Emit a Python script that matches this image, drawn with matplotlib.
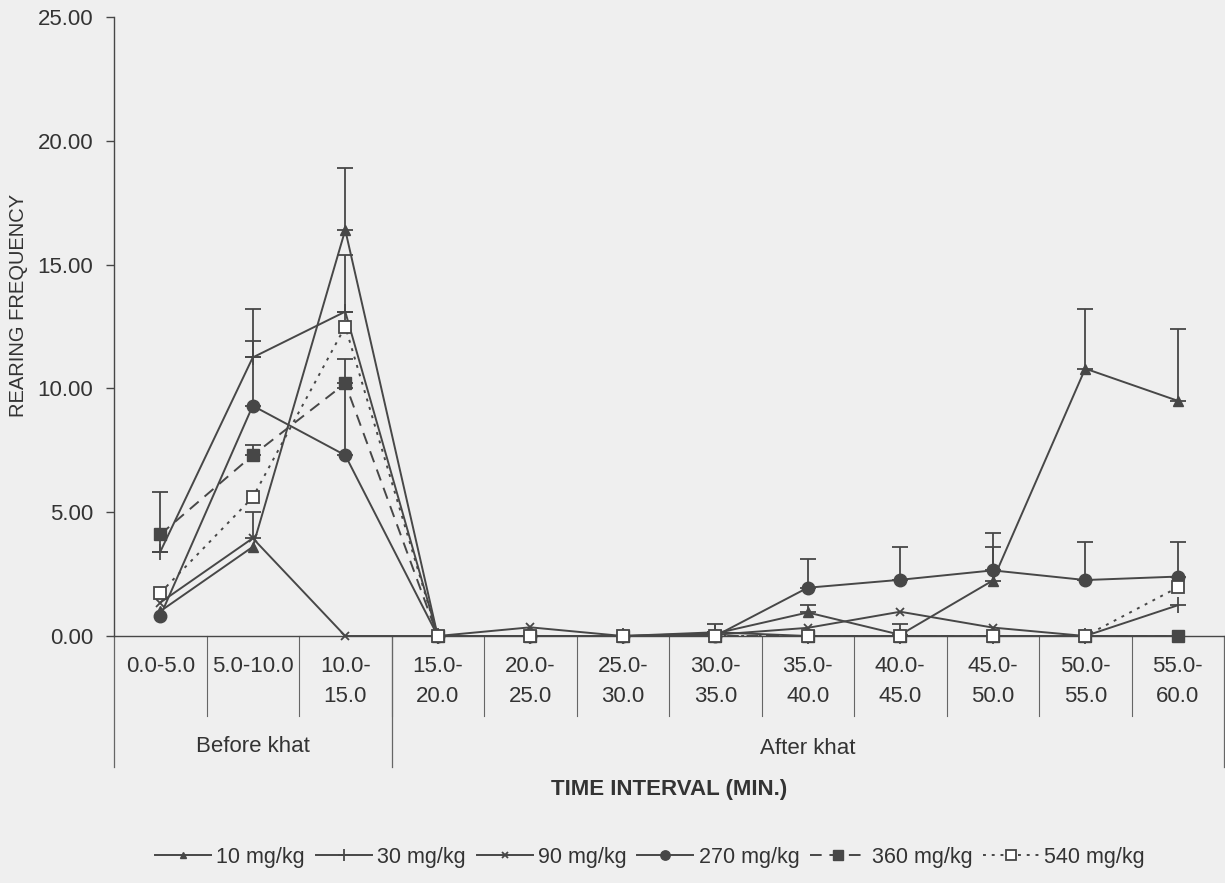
import matplotlib
matplotlib.use('Agg')
import matplotlib.pyplot as plt
import numpy as np

plt.rcParams['font.family'] = ['Liberation Sans', 'DejaVu Sans']

# Categorias (intervalos de tempo) e grupos
intervalos = ['0.0-5.0', '5.0-10.0', '10.0-\n15.0', '15.0-\n20.0', '20.0-\n25.0', '25.0-\n30.0',
              '30.0-\n35.0', '35.0-\n40.0', '40.0-\n45.0', '45.0-\n50.0', '50.0-\n55.0', '55.0-\n60.0']
grupos = ['Before khat', 'After khat']

doses = ['10 mg/kg', '30 mg/kg', '90 mg/kg', '270 mg/kg', '360 mg/kg', '540 mg/kg']

# Médias
v_10 = [1.0, 3.6, 16.4, 0, 0, 0, 0.1, 0.95, 0.05, 2.24, 10.8, 9.5]
v_30 = [3.4, 11.25, 13.1, 0, 0, 0, 0.15, 0, 0, 0, 0, 1.24]
v_90 = [1.35, 3.95, 0, 0, 0.35, 0, 0.05, 0.33, 0.98, 0.34, 0, 0]
v_270 = [0.8, 9.3, 7.3, 0, 0, 0, 0, 1.95, 2.27, 2.65, 2.26, 2.4]
v_360 = [4.1, 7.3, 10.2, 0, 0, 0, 0, 0, 0, 0, 0, 0]
v_540 = [1.74, 5.6, 12.5, 0, 0, 0, 0, 0, 0, 0, 0, 1.96]

# Barras de erro (somente para cima)
e_10 = [0, 0, 2.5, 0, 0, 0, 0, 0.32, 0.45, 1.36, 2.4, 2.9]
e_30 = [2.4, 1.95, 2.3, 0, 0, 0, 0.35, 0, 0, 0, 0, 0]
e_90 = [0, 1.05, 0, 0, 0, 0, 0, 0, 0, 0, 0, 0]
e_270 = [0, 2.6, 2.7, 0, 0, 0, 0, 1.15, 1.33, 1.5, 1.52, 1.4]
e_360 = [0, 0.4, 1.0, 0, 0, 0, 0, 0, 0, 0, 0, 0]
e_540 = [0] * 12

W, H = 1225, 883
bg = '#efefef'
cor = '#474747'

fig = plt.figure(figsize=(W / 100, H / 100), dpi=100, facecolor=bg)
ax = fig.add_axes([114 / W, 1 - 636 / H, (1224 - 114) / W, (636 - 17) / H])
ax.set_facecolor(bg)

x = np.arange(len(intervalos))

estilos = [
    (v_10, e_10, dict(linestyle='-', marker='^', markersize=6.5, markerfacecolor=cor)),
    (v_30, e_30, dict(linestyle='-', marker='+', markersize=11, markeredgewidth=1.3)),
    (v_90, e_90, dict(linestyle='-', marker='x', markersize=6, markeredgewidth=1.3)),
    (v_270, e_270, dict(linestyle='-', marker='o', markersize=9, markerfacecolor=cor)),
    (v_360, e_360, dict(linestyle=(0, (6, 4)), marker='s', markersize=9, markerfacecolor=cor)),
    (v_540, e_540, dict(linestyle=(0, (1.5, 3)), marker='s', markersize=9, markerfacecolor='white',
                        markeredgewidth=1.3)),
]

for (vals, errs, st), nome in zip(estilos, doses):
    vals = np.array(vals, dtype=float)
    errs = np.array(errs, dtype=float)
    m = errs > 0
    if m.any():
        ax.errorbar(x[m], vals[m], yerr=[np.zeros(m.sum()), errs[m]], fmt='none',
                    ecolor=cor, elinewidth=1.3, capsize=6, capthick=1.3, zorder=2)
    ax.plot(x, vals, color=cor, linewidth=1.4, markeredgecolor=cor, label=nome,
            clip_on=False, zorder=3, **st)

ax.set_xlim(-0.5, 11.5)
ax.set_ylim(0, 25)
ax.set_yticks(np.arange(0, 26, 5))
ax.set_yticklabels([f'{v:.2f}' for v in np.arange(0, 26, 5)])
ax.tick_params(axis='y', length=6, width=1, color=cor, pad=9, labelsize=16, labelcolor='#333333')
ax.set_xticks([])
for s in ['top', 'right']:
    ax.spines[s].set_visible(False)
for s in ['left', 'bottom']:
    ax.spines[s].set_color(cor)
    ax.spines[s].set_linewidth(1)

# Tabela do eixo de categorias
hpx = 636 - 17
trans = ax.get_xaxis_transform()
for k in range(1, len(intervalos)):
    ax.plot([k - 0.5, k - 0.5], [0, -80 / hpx], transform=trans, color='#666666',
            linewidth=0.8, clip_on=False)
for xv in [-0.5, 2.5, 11.5]:
    ax.plot([xv, xv], [0, -131 / hpx], transform=trans, color='#666666',
            linewidth=0.9, clip_on=False)

for i, lab in enumerate(intervalos):
    linhas = lab.split('\n')
    for j, ln in enumerate(linhas):
        ax.text(i, -(30 + 31 * j) / hpx, ln, transform=trans, ha='center', va='center',
                fontsize=16, color='#333333')

ax.text(1.0, -110 / hpx, grupos[0], transform=trans, ha='center', va='center',
        fontsize=16, color='#333333')
ax.text(7.0, -113 / hpx, grupos[1], transform=trans, ha='center', va='center',
        fontsize=16, color='#333333')

fig.text(669 / W, 1 - 790 / H, 'TIME INTERVAL (MIN.)', ha='center', va='center',
         fontsize=16, fontweight='bold', color='#333333')
fig.text(19 / W, 1 - 305 / H, 'REARING FREQUENCY', ha='center', va='center',
         rotation=90, fontsize=14.5, color='#333333')

fig.legend(loc='center', bbox_to_anchor=(650 / W, 1 - 857 / H), ncol=6, frameon=False,
           fontsize=15.5, handlelength=2.6, handletextpad=0.25, columnspacing=0.5,
           markerscale=0.75, labelcolor='#333333')

fig.savefig('out.png', dpi=100, facecolor=bg)
